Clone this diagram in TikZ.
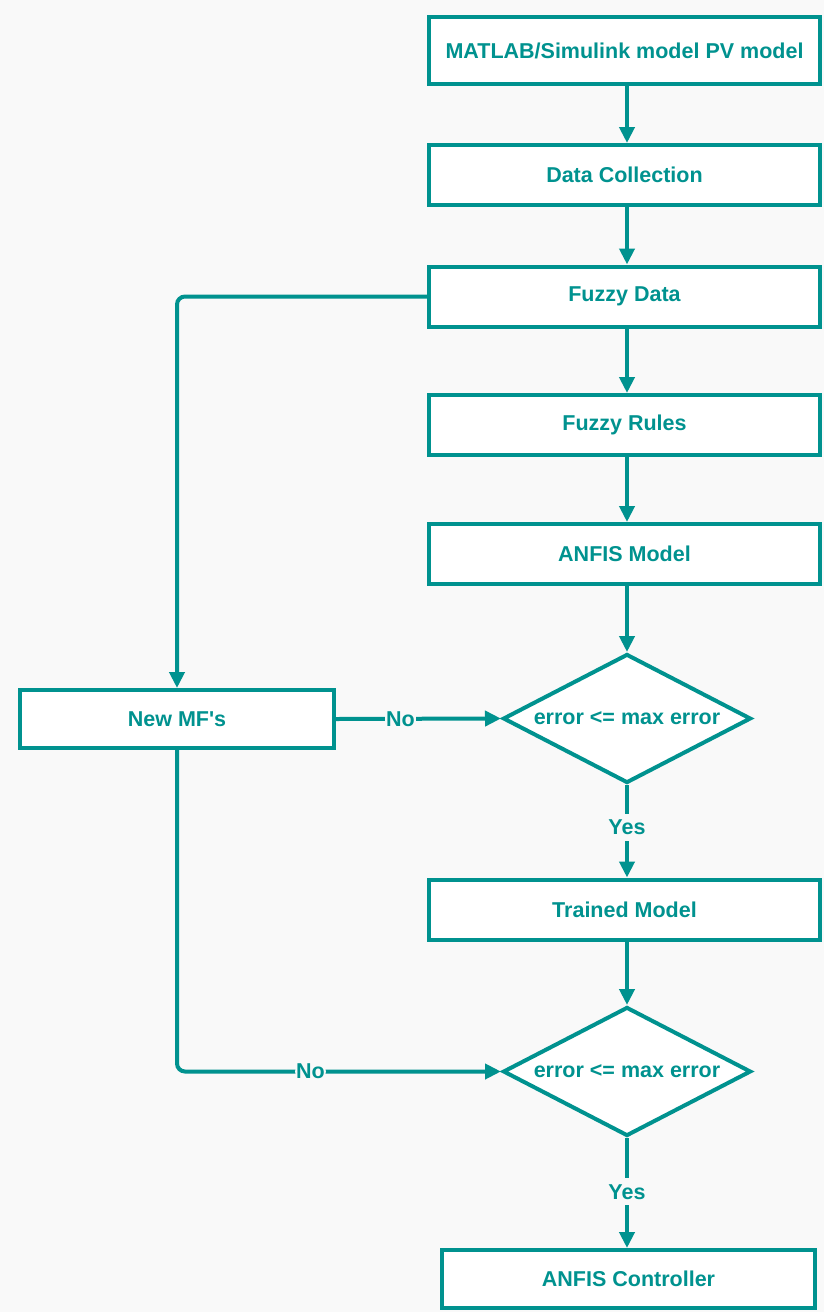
\documentclass[tikz,border=0pt]{standalone}
\usepackage{fontspec}
\setmainfont{Liberation Sans}[Ligatures=TeXOff]
\usetikzlibrary{shapes.geometric,arrows.meta}
\definecolor{tl}{RGB}{0,146,143}
\definecolor{bg}{RGB}{249,249,249}
\begin{document}
\begin{tikzpicture}[x=1pt,y=-1pt,
  every node/.style={text=tl,font=\fontsize{21.5}{25}\selectfont\bfseries},
  box/.style={draw=tl,line width=4pt,fill=white,minimum width=391pt,minimum height=60pt,inner sep=0pt},
  dec/.style={draw=tl,line width=4pt,fill=white,diamond,aspect=1.9,minimum width=248pt,minimum height=129pt,inner sep=0pt},
  conn/.style={draw=tl,line width=4pt,-{Triangle[length=16pt,width=15pt]}},
  lbl/.style={fill=bg,inner sep=1pt}]
\fill[bg] (0,0) rectangle (824,1312);
\useasboundingbox (0,0) rectangle (824,1312);
\node[box,minimum height=67pt] (b1) at (624.5,50.5) {MATLAB/Simulink model PV model};
\node[box] (b2) at (624.5,175) {Data Collection};
\node[box] (b3) at (624.5,296.5) {Fuzzy Data};
\node[box] (b4) at (624.5,425) {Fuzzy Rules};
\node[box] (b5) at (624.5,554) {ANFIS Model};
\node[dec] (d1) at (627,718.5) {error <= max error};
\node[box,minimum width=314pt,minimum height=58pt] (nm) at (177,719) {New MF\textquotesingle s};
\node[box] (tm) at (624.5,909.5) {Trained Model};
\node[dec] (d2) at (627,1071.5) {error <= max error};
\node[box,minimum width=373pt,minimum height=58pt] (ac) at (628.5,1279) {ANFIS Controller};
\draw[conn] (b1.south -| d1.north) -- (b2.north -| d1.north);
\draw[conn] (b2.south -| d1.north) -- (b3.north -| d1.north);
\draw[conn] (b3.south -| d1.north) -- (b4.north -| d1.north);
\draw[conn] (b4.south -| d1.north) -- (b5.north -| d1.north);
\draw[conn] (b5.south -| d1.north) -- (d1.north);
\draw[conn] (d1.south) -- node[lbl,inner sep=6pt,pos=0.46] {Yes} (tm.north -| d1.south);
\draw[conn] (tm.south -| d1.south) -- (d2.north);
\draw[conn] (d2.south) -- node[lbl,inner sep=6pt,pos=0.49] {Yes} (ac.north -| d2.south);
\draw[conn] (nm.east) -- node[lbl,pos=0.39] {No} (d1.west);
\draw[conn,rounded corners=8pt] (b3.west) -| (nm.north);
\draw[conn,rounded corners=8pt] (nm.south) |- node[lbl,pos=0.706] {No} (d2.west);
\end{tikzpicture}
\end{document}
